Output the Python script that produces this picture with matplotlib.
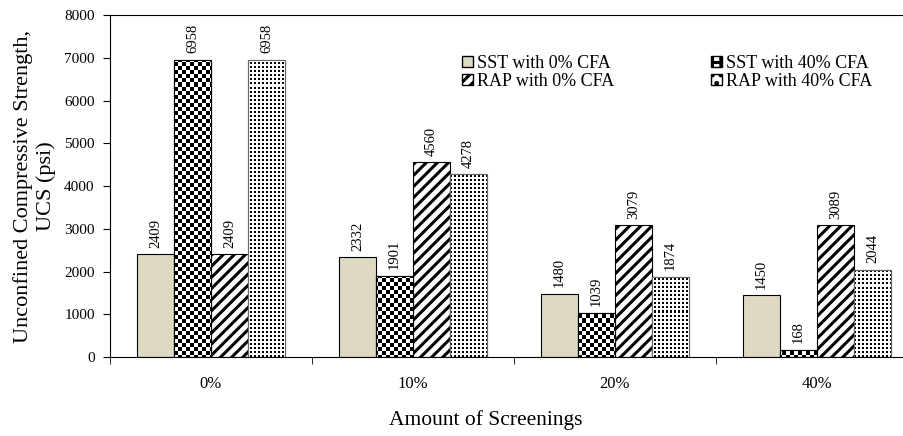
import numpy as np
import matplotlib.pyplot as plt
from matplotlib.patches import Patch

plt.rcParams['font.family'] = ['Liberation Serif', 'DejaVu Serif']
plt.rcParams['hatch.linewidth'] = 2.2

# data
screenings = ["0%", "10%", "20%", "40%"]
series = ["SST with 0% CFA", "SST with 40% CFA", "RAP with 0% CFA", "RAP with 40% CFA"]
sst_0 = [2409, 2332, 1480, 1450]
sst_40 = [6958, 1901, 1039, 168]
rap_0 = [2409, 4560, 3079, 3089]
rap_40 = [6958, 4278, 1874, 2044]
values = [sst_0, sst_40, rap_0, rap_40]

AX_W, AX_H = 793, 342
fig = plt.figure(figsize=(9.04, 4.36), dpi=100)
ax = fig.add_axes([110 / 904, 1 - 357 / 436, AX_W / 904, AX_H / 436])

x = np.arange(len(screenings))
w = 0.183
offsets = (np.arange(4) - 1.5) * w

# pixel textures (1 px per cell) clipped to bars
yy, xx = np.mgrid[0:AX_H, 0:AX_W]
checker = (((yy // 4) + (xx // 4)) % 2).astype(float)
dots = 1.0 - (((yy % 4) < 2) & ((xx % 4) < 2)).astype(float)


def textured(xpos, vals, tex, edge):
    bars = ax.bar(xpos, vals, w, color="white", edgecolor=edge, lw=0.8)
    for b in bars:
        im = ax.imshow(tex, cmap="gray", vmin=0, vmax=1, interpolation="nearest",
                       aspect="auto", extent=(0, 1, 0, 1), transform=ax.transAxes,
                       zorder=1.5)
        im.set_clip_path(b)
    ax.bar(xpos, vals, w, fill=False, edgecolor=edge, lw=0.8, zorder=2)
    return bars


for i, vals in enumerate(values):
    if i == 0:
        bars = ax.bar(x + offsets[i], vals, w, color="#DDD9C3", edgecolor="black", lw=0.8)
    elif i == 1:
        bars = textured(x + offsets[i], vals, checker, "black")
    elif i == 2:
        bars = ax.bar(x + offsets[i], vals, w, color="white", edgecolor="black", lw=0.8, hatch="///")
    else:
        bars = textured(x + offsets[i], vals, dots, "#666666")
    for b, v in zip(bars, vals):
        ax.text(b.get_x() + w / 2, v + 150, str(v), rotation=90, ha="center", va="bottom",
                fontsize=10.5)

ax.set_yticks(np.arange(0, 8001, 1000))
ax.set_xticks(x)
ax.set_xticklabels(screenings)
ax.set_xticks(np.arange(-0.5, 3.6, 1), minor=True)
ax.set_xlim(-0.5, 3.426)
ax.set_ylim(0, 8000)
ax.tick_params(axis="x", which="major", length=0, labelsize=12, pad=14)
ax.tick_params(axis="x", which="minor", length=5, direction="out")
ax.tick_params(axis="y", length=5, direction="out", labelsize=11, pad=6)
ax.spines["right"].set_visible(False)

ax.set_ylabel("Unconfined Compressive Strength,\nUCS (psi)", fontsize=16, labelpad=6)
ax.set_xlabel("Amount of Screenings", fontsize=15.5)
ax.xaxis.set_label_coords(0.474, -0.155)

handles = [
    Patch(facecolor="#DDD9C3", edgecolor="black", label=series[0]),
    Patch(facecolor="white", edgecolor="black", hatch="///", label=series[2]),
    Patch(facecolor="white", edgecolor="black", hatch="++", label=series[1]),
    Patch(facecolor="white", edgecolor="black", hatch="..", label=series[3]),
]
ax.legend(handles=handles, ncol=2, frameon=False, fontsize=13, loc="upper left",
          bbox_to_anchor=(0.435, 0.905), handlelength=0.6, handleheight=0.6,
          handletextpad=0.2, columnspacing=5.4, labelspacing=0.05, borderaxespad=0)

fig.savefig("out.png", dpi=100)
